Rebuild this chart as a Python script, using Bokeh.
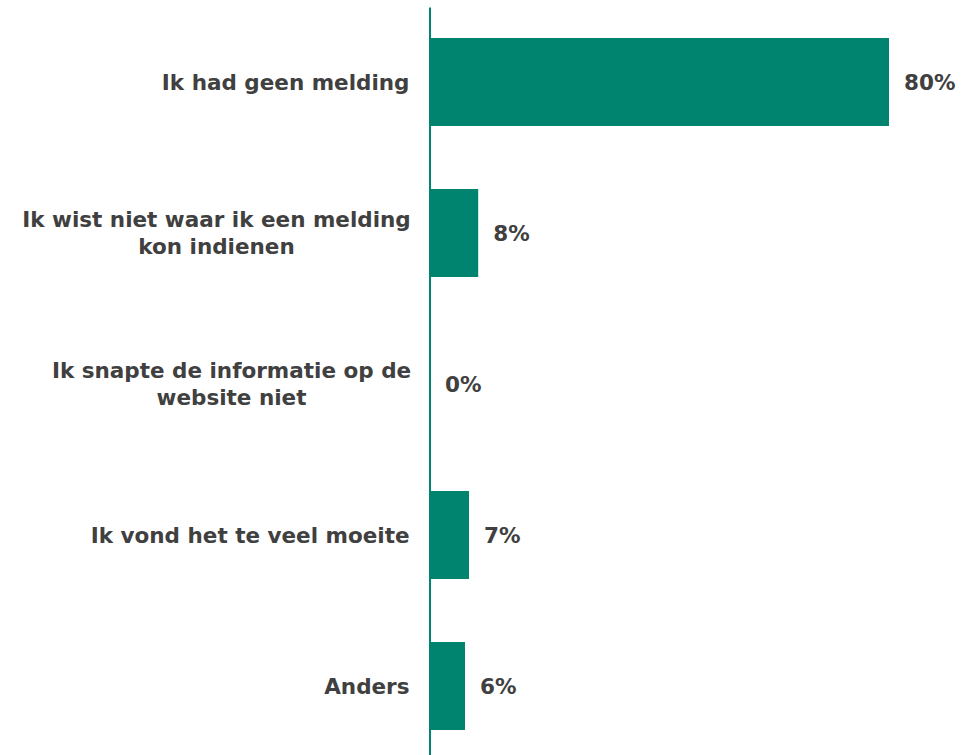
from bokeh.plotting import figure
from bokeh.models import Range1d, ColumnDataSource
from bokeh.embed import file_html
from bokeh.resources import INLINE
from bokeh.core.properties import value

categories = [
    "Ik had geen melding",
    "Ik wist niet waar ik een melding\nkon indienen",
    "Ik snapte de informatie op de\nwebsite niet",
    "Ik vond het te veel moeite",
    "Anders",
]
values = [80.0, 8.4, 0.0, 6.8, 6.1]
value_labels = ["80%", "8%", "0%", "7%", "6%"]

W, H = 977, 755
AXIS_PX = 429.5
PX_PER_UNIT = 5.7375
ROW_PX = 151.0
FIRST_CENTER = 81.5

TEAL = "#00846F"
TXT = "#404040"
FONT = value("DejaVu Sans")
FSIZE = "21.5px"

p = figure(width=W, height=H, output_backend="svg", toolbar_location=None,
           x_range=Range1d(-AXIS_PX / PX_PER_UNIT, (W - AXIS_PX) / PX_PER_UNIT),
           y_range=Range1d((H - FIRST_CENTER) / ROW_PX, -FIRST_CENTER / ROW_PX),
           min_border=0, outline_line_color=None)
p.axis.visible = False
p.grid.visible = False
p.background_fill_color = "white"
p.border_fill_color = "white"

ys = list(range(len(categories)))
src = ColumnDataSource(dict(y=ys, v=values, lab=value_labels, cat=categories))

p.hbar(y="y", left=0, right="v", height=88 / ROW_PX, source=src,
       fill_color=TEAL, line_color=None)

# axis line
p.segment(x0=[0], y0=[(7 - FIRST_CENTER) / ROW_PX], x1=[0], y1=[(H - FIRST_CENTER) / ROW_PX + 1],
          line_color=TEAL, line_width=2)

# value labels
p.text(x="v", y="y", text="lab", source=src, x_offset=15,
       text_font=FONT, text_font_style="bold", text_font_size=FSIZE,
       text_color=TXT, text_align="left", text_baseline="middle")

# category labels
xs, aligns = [], []
centers_px = {1: 216.0, 2: 231.0}
for i, c in enumerate(categories):
    if "\n" in c:
        xs.append((centers_px[i] - AXIS_PX) / PX_PER_UNIT)
        aligns.append("center")
    else:
        xs.append((409 - AXIS_PX) / PX_PER_UNIT)
        aligns.append("right")
lsrc = ColumnDataSource(dict(x=xs, y=ys, t=categories, a=aligns))
p.text(x="x", y="y", text="t", source=lsrc, text_align="a",
       text_font=FONT, text_font_style="bold", text_font_size=FSIZE,
       text_color=TXT, text_baseline="middle", text_line_height=1.045)

open("out.html", "w").write(file_html(p, INLINE))
